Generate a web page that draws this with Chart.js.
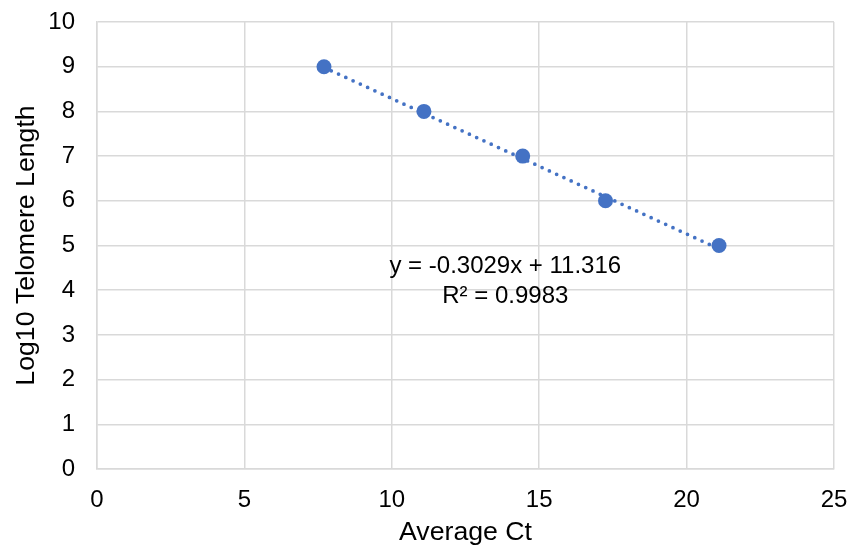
<!DOCTYPE html>
<html>
<head>
<meta charset="utf-8">
<script src="https://cdn.jsdelivr.net/npm/chart.js@4/dist/chart.umd.min.js"></script>
<style>
  html, body { margin: 0; padding: 0; background: #fff; }
  #wrap { width: 854px; height: 557px; position: relative; }
</style>
</head>
<body>
<div id="wrap"><canvas id="chart"></canvas></div>
<script>
// values
var avgCt = [7.70, 11.09, 14.44, 17.25, 21.10];
var log10Length = [9, 8, 7, 6, 5];

// ends of the linear trendline as drawn
var trendX = [7.70, 21.10];
var trendY = [8.984, 4.925];

var trendLabel = ['y = -0.3029x + 11.316', 'R\u00b2 = 0.9983'];
var trendLabelAt = { x: 13.85, y: 4.53 };

var xTicks = [0, 5, 10, 15, 20, 25];
var yTicks = [0, 1, 2, 3, 4, 5, 6, 7, 8, 9, 10];

var blue = '#4472C4';
var gridColor = '#d9d9d9';
var fontFamily = '"Liberation Sans", Arial, sans-serif';

function toPoints(xs, ys) {
  return xs.map(function(x, i) { return { x: x, y: ys[i] }; });
}

// no automatic room for overhanging tick labels, layout padding does it
function noLabelPadding(scale) {
  scale.paddingTop = 0;
  scale.paddingBottom = 0;
  scale.paddingLeft = 0;
  scale.paddingRight = 0;
}

// writes the trendline equation in data space
var trendLabelPlugin = {
  id: 'trendLabel',
  afterDatasetsDraw: function(chart) {
    var ctx = chart.ctx;
    var px = chart.scales.x.getPixelForValue(trendLabelAt.x);
    var py = chart.scales.y.getPixelForValue(trendLabelAt.y);
    ctx.save();
    ctx.font = '24px ' + fontFamily;
    ctx.fillStyle = '#000';
    ctx.textAlign = 'center';
    ctx.textBaseline = 'middle';
    trendLabel.forEach(function(line, i) {
      ctx.fillText(line, px, py + i * 30);
    });
    ctx.restore();
  }
};

new Chart(document.getElementById('chart'), {
  type: 'scatter',
  data: {
    datasets: [
      {
        label: 'Log10 Telomere Length',
        data: toPoints(avgCt, log10Length),
        backgroundColor: blue,
        borderColor: blue,
        pointRadius: 7.5,
        pointHoverRadius: 7.5,
        borderWidth: 0,
        order: 1
      },
      {
        label: 'Linear trendline',
        type: 'line',
        data: toPoints(trendX, trendY),
        borderColor: blue,
        borderWidth: 3.75,
        borderDash: [0, 8],
        borderCapStyle: 'round',
        pointRadius: 0,
        fill: false,
        order: 2
      }
    ]
  },
  options: {
    responsive: true,
    maintainAspectRatio: false,
    animation: false,
    layout: { padding: { left: 0, top: 22, right: 20, bottom: 0 } },
    plugins: {
      legend: { display: false },
      tooltip: { enabled: false }
    },
    scales: {
      x: {
        type: 'linear',
        min: 0,
        max: 25,
        afterBuildTicks: function(scale) {
          scale.ticks = xTicks.map(function(v) { return { value: v }; });
        },
        afterFit: function(scale) {
          scale.height = 88;
          noLabelPadding(scale);
        },
        grid: { color: gridColor, lineWidth: 1.5, drawTicks: false },
        border: { color: gridColor, width: 1.5 },
        ticks: {
          color: '#000',
          padding: 17,
          font: { family: fontFamily, size: 24 }
        },
        title: {
          display: true,
          text: 'Average Ct',
          color: '#000',
          font: { family: fontFamily, size: 26.7 },
          padding: { top: 0, bottom: 8 }
        }
      },
      y: {
        type: 'linear',
        min: 0,
        max: 10,
        afterBuildTicks: function(scale) {
          scale.ticks = yTicks.map(function(v) { return { value: v }; });
        },
        afterFit: function(scale) {
          scale.width = 97;
          noLabelPadding(scale);
        },
        grid: { color: gridColor, lineWidth: 1.5, drawTicks: false },
        border: { color: gridColor, width: 1.5 },
        ticks: {
          color: '#000',
          padding: 22,
          font: { family: fontFamily, size: 24 }
        },
        title: {
          display: true,
          text: 'Log10 Telomere Length',
          color: '#000',
          font: { family: fontFamily, size: 26.7 },
          padding: { top: 11, bottom: 0 }
        }
      }
    }
  },
  plugins: [trendLabelPlugin]
});
</script>
</body>
</html>
